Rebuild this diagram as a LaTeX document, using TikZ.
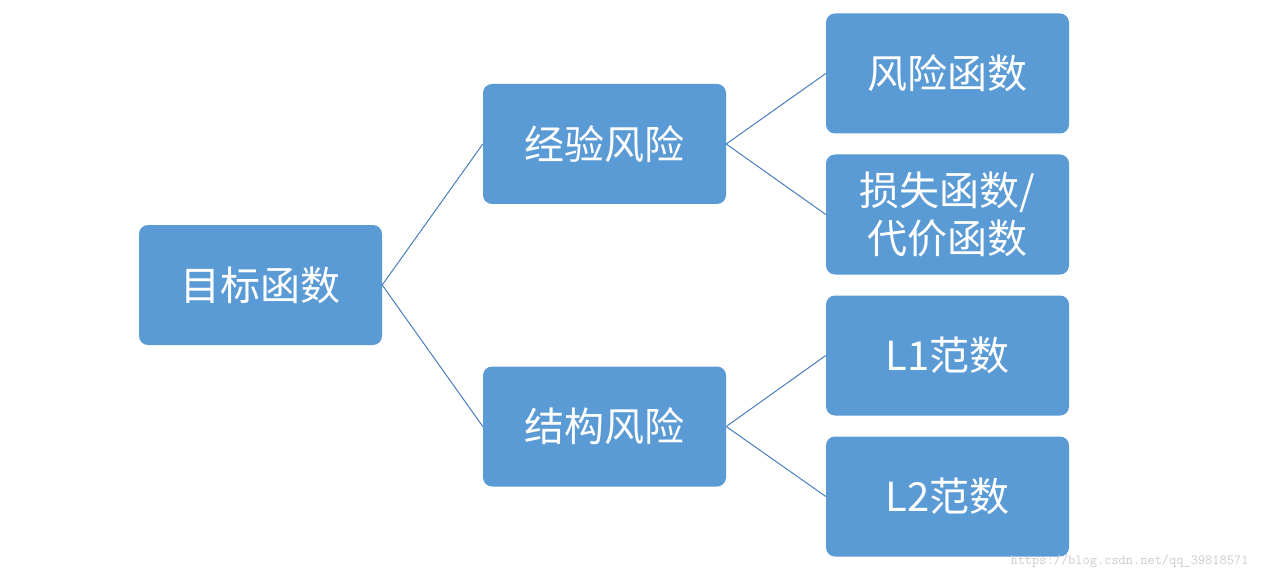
\documentclass[tikz,border=0pt]{standalone}
\usepackage{fontspec}
\newfontfamily\cjk{Noto Sans CJK SC}
\definecolor{boxc}{HTML}{5B9BD5}
\definecolor{linec}{HTML}{4A7EBB}
\begin{document}
\begin{tikzpicture}[x=1pt,y=-1pt,
  box/.style={fill=boxc,rounded corners=9pt,minimum width=243pt,minimum height=120pt,inner sep=0pt,text=white,font=\cjk\fontsize{40}{48}\selectfont,align=center},
  conn/.style={draw=linec,line width=1pt}]
\useasboundingbox[fill=white] (0,0) rectangle (1263,580);
\node[box] (a) at (260.5,285) {目标函数};
\node[box] (b) at (604.5,144) {经验风险};
\node[box] (c) at (604.5,426.5) {结构风险};
\node[box] (d) at (947.5,73.5) {风险函数};
\node[box] (e) at (947.5,214.5) {损失函数/\\代价函数};
\node[box] (f) at (947.5,355.5) {L1范数};
\node[box] (g) at (947.5,496.5) {L2范数};
\draw[conn] (a.east) -- (b.west);
\draw[conn] (a.east) -- (c.west);
\draw[conn] (b.east) -- (d.west);
\draw[conn] (b.east) -- (e.west);
\draw[conn] (c.east) -- (f.west);
\draw[conn] (c.east) -- (g.west);
\node[text=black!20,font=\ttfamily\fontsize{14}{16}\selectfont,anchor=east] (w) at (1252,561) {https://blog.csdn.net/qq\_39818571};
\end{tikzpicture}
\end{document}
